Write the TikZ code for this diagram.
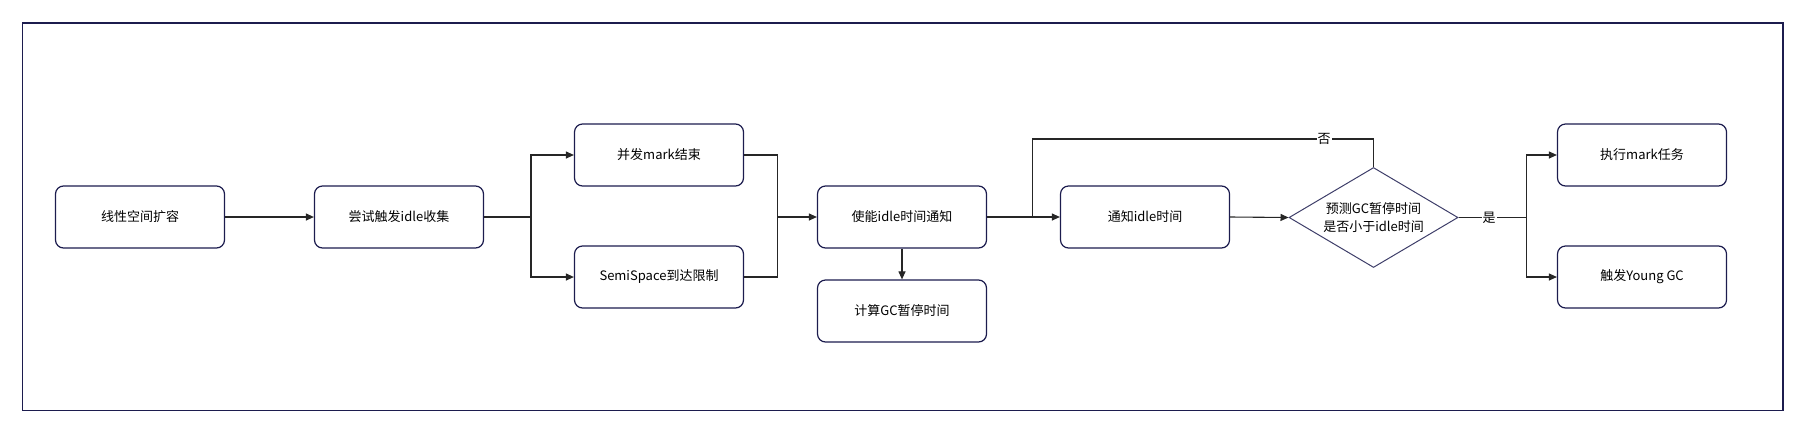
\documentclass[tikz,border=0pt]{standalone}
\usepackage{fontspec}
\setmainfont{Noto Sans CJK SC}
\usetikzlibrary{shapes.geometric,arrows.meta}
\definecolor{navy}{HTML}{1C1C4E}
\definecolor{conn}{HTML}{262626}
\begin{document}
\begin{tikzpicture}[x=1pt,y=-1pt,
  box/.style={draw=navy, line width=1.2pt, rounded corners=8pt, minimum width=169pt, minimum height=62pt, inner sep=0pt, font=\fontsize{13}{16}\selectfont},
  dia/.style={diamond, draw=navy!85, line width=1pt, minimum width=169pt, minimum height=100pt, aspect=1.69, inner sep=0pt, align=center, font=\fontsize{13}{18.5}\selectfont},
  conn/.style={draw=conn, line width=1.1pt},
  arr/.style={conn, -{Triangle[length=8pt,width=7pt]}},
  lbl/.style={fill=white, inner sep=1pt, font=\fontsize{13}{16}\selectfont}
]
\useasboundingbox (0,0) rectangle (1806,437);
\draw[draw=navy, line width=1.4pt] (22.5,23) rectangle (1783,410.5);

\node[box] (b1) at (140,217) {线性空间扩容};
\node[box] (b2) at (399,217) {尝试触发idle收集};
\node[box] (b3) at (659,155) {并发mark结束};
\node[box] (b4) at (659,277) {SemiSpace到达限制};
\node[box] (b5) at (902,217) {使能idle时间通知};
\node[box] (b6) at (902,311) {计算GC暂停时间};
\node[box] (b7) at (1145,217) {通知idle时间};
\node[dia] (d) at (1373.5,217.5) {预测GC暂停时间\\是否小于idle时间};
\node[box] (b8) at (1642,155) {执行mark任务};
\node[box] (b9) at (1642,277) {触发Young GC};

\coordinate (j1) at (531,217);
\coordinate (j2) at (777.5,217);
\coordinate (j3) at (1032.5,217);
\coordinate (j3t) at (1032.5,139);
\coordinate (dt) at (1373.5,139);
\coordinate (j4) at (1526.5,217.5);

\draw[arr] (b1.east) -- (b2.west);
\draw[conn] (b2.east) -- (j1);
\draw[arr] (j1) |- (b3.west);
\draw[arr] (j1) |- (b4.west);
\draw[conn] (b3.east) -| (j2);
\draw[conn] (b4.east) -| (j2);
\draw[arr] (j2) -- (b5.west);
\draw[arr] (b5.south) -- (b6.north);
\draw[arr] (b5.east) -- (b7.west);
\draw[arr] (b7.east) -- (d.west);
\draw[conn] (d.north) -- (dt) -- (j3t) -- (j3);
\node[lbl] (no) at (1324,139) {否};
\draw[conn] (d.east) -- (j4);
\node[lbl] (yes) at (1489,218) {是};
\draw[arr] (j4) |- (b8.west);
\draw[arr] (j4) |- (b9.west);
\end{tikzpicture}
\end{document}
